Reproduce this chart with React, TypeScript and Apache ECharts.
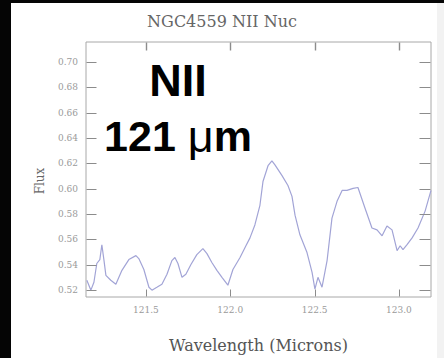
import React, { useEffect, useRef } from "react";
import * as echarts from "echarts";

// NII 121 micron spectrum of the NGC4559 nucleus
const wavelength = [
  121.150, 121.174, 121.192, 121.209, 121.227, 121.239, 121.251, 121.263, 121.292, 121.322,
  121.358, 121.399, 121.441, 121.458, 121.488, 121.518, 121.536, 121.565, 121.595, 121.625,
  121.654, 121.672, 121.690, 121.714, 121.737, 121.767, 121.802, 121.838, 121.862, 121.891,
  121.921, 121.951, 121.986, 122.016, 122.058, 122.093, 122.117, 122.146, 122.176, 122.194,
  122.224, 122.247, 122.265, 122.307, 122.342, 122.366, 122.384, 122.413, 122.455, 122.485,
  122.502, 122.520, 122.544, 122.574, 122.603, 122.633, 122.663, 122.692, 122.728, 122.757,
  122.799, 122.840, 122.870, 122.900, 122.929, 122.959, 122.989, 123.007, 123.024, 123.048,
  123.078, 123.113, 123.155, 123.190,
];

const flux = [
  0.5278, 0.5200, 0.5262, 0.5410, 0.5441, 0.5558, 0.5441, 0.5317, 0.5278, 0.5247,
  0.5356, 0.5441, 0.5472, 0.5449, 0.5363, 0.5223, 0.5200, 0.5223, 0.5247, 0.5325,
  0.5433, 0.5457, 0.5410, 0.5301, 0.5325, 0.5402, 0.5480, 0.5527, 0.5488, 0.5418,
  0.5356, 0.5301, 0.5239, 0.5363, 0.5457, 0.5550, 0.5612, 0.5714, 0.5869, 0.6056,
  0.6181, 0.6219, 0.6188, 0.6103, 0.6025, 0.5939, 0.5791, 0.5636, 0.5496, 0.5340,
  0.5208, 0.5301, 0.5223, 0.5433, 0.5768, 0.5900, 0.5986, 0.5986, 0.6002, 0.6009,
  0.5846, 0.5690, 0.5675, 0.5628, 0.5706, 0.5675, 0.5511, 0.5550, 0.5519, 0.5558,
  0.5612, 0.5690, 0.5823, 0.5986,
];

const xTicks = [121.5, 122.0, 122.5, 123.0];
const yTicks = [0.52, 0.54, 0.56, 0.58, 0.6, 0.62, 0.64, 0.66, 0.68, 0.7];

const X_MIN = 121.145;
const X_MAX = 123.19;
const Y_MIN = 0.5146;
const Y_MAX = 0.7156;

const SERIF = "'DejaVu Serif', 'Liberation Serif', serif";
const SANS = "'Liberation Sans', Arial, sans-serif";
const FRAME = "#a8a8a8";
const TICK = "#8c8c8c";

// snap a coordinate to the pixel grid so 1px strokes stay crisp
const snap = (v: number) => Math.round(v) + 0.5;

export default function App() {
  const ref = useRef<HTMLDivElement>(null);

  useEffect(() => {
    if (!ref.current) return;
    const chart = echarts.init(ref.current, null, { renderer: "svg" });

    const points = wavelength.map((w, i) => [w, flux[i]]);

    // one inward tick pair (bottom + top) per wavelength tick
    const renderXTick = (_p: any, api: any) => {
      const x = snap(api.coord([api.value(0), Y_MIN])[0]);
      const yb = snap(api.coord([X_MIN, Y_MIN])[1]) - 1;
      const yt = snap(api.coord([X_MIN, Y_MAX])[1]);
      return {
        type: "group",
        children: [
          { type: "line", shape: { x1: x, y1: yb, x2: x, y2: yb - 7 }, style: { stroke: TICK, lineWidth: 1 } },
          { type: "line", shape: { x1: x, y1: yt, x2: x, y2: yt + 8 }, style: { stroke: TICK, lineWidth: 1.4 } },
        ],
      };
    };

    // one inward tick pair (left + right) per flux tick
    const renderYTick = (_p: any, api: any) => {
      const y = snap(api.coord([X_MIN, api.value(1)])[1]);
      const xl = snap(api.coord([X_MIN, Y_MIN])[0]);
      const xr = snap(api.coord([X_MAX, Y_MIN])[0]) - 1;
      return {
        type: "group",
        children: [
          { type: "line", shape: { x1: xl, y1: y, x2: xl + 10, y2: y }, style: { stroke: TICK, lineWidth: 1 } },
          { type: "line", shape: { x1: xr, y1: y, x2: xr - 11, y2: y }, style: { stroke: TICK, lineWidth: 1 } },
        ],
      };
    };

    chart.setOption({
      animation: false,
      backgroundColor: "#ffffff",
      title: {
        text: "NGC4559 NII Nuc",
        left: "center",
        top: 8,
        textStyle: { fontFamily: SERIF, fontSize: 16, fontWeight: "normal", color: "#666" },
      },
      grid: {
        left: 86,
        top: 42,
        right: 13,
        bottom: 58,
        show: true,
        borderColor: FRAME,
        borderWidth: 1,
        backgroundColor: "transparent",
      },
      xAxis: {
        type: "value",
        min: X_MIN,
        max: X_MAX,
        axisLine: { show: false },
        axisTick: { show: false },
        splitLine: { show: false },
        axisLabel: {
          show: true,
          customValues: xTicks,
          formatter: (v: number) => v.toFixed(1),
          fontFamily: SERIF,
          fontSize: 9,
          color: "#9a9a9a",
          margin: 8,
        },
        name: "Wavelength (Microns)",
        nameLocation: "middle",
        nameGap: 40,
        nameTextStyle: { fontFamily: SERIF, fontSize: 16, color: "#555" },
      },
      yAxis: {
        type: "value",
        min: Y_MIN,
        max: Y_MAX,
        axisLine: { show: false },
        axisTick: { show: false },
        splitLine: { show: false },
        axisLabel: {
          show: true,
          customValues: yTicks,
          formatter: (v: number) => v.toFixed(2),
          fontFamily: SERIF,
          fontSize: 9,
          color: "#9a9a9a",
          margin: 8,
        },
      },
      series: [
        {
          type: "custom",
          renderItem: renderXTick,
          data: xTicks.map((v) => [v, Y_MIN]),
          clip: false,
          silent: true,
          z: 3,
        },
        {
          type: "custom",
          renderItem: renderYTick,
          data: yTicks.map((v) => [X_MIN, v]),
          clip: false,
          silent: true,
          z: 3,
        },
        {
          type: "line",
          data: points,
          symbol: "none",
          smooth: false,
          lineStyle: { color: "#a2a4d6", width: 1.2 },
          z: 2,
        },
      ],
      graphic: [
        { type: "rect", shape: { x: 0, y: 0, width: 11, height: 358 }, style: { fill: "#050505" } },
        { type: "rect", shape: { x: 0, y: 0, width: 444, height: 3 }, style: { fill: "#050505" } },
        { type: "rect", shape: { x: 437, y: 3, width: 7, height: 355 }, style: { fill: "#f2f2f2" } },
        {
          type: "text",
          x: 40,
          y: 181,
          rotation: Math.PI / 2,
          style: {
            text: "Flux",
            fontFamily: SERIF,
            fontSize: 12,
            fill: "#666",
            align: "center",
            verticalAlign: "middle",
          },
        },
        {
          type: "text",
          x: 178,
          y: 80,
          style: {
            text: "NII",
            fontFamily: SANS,
            fontWeight: "bold",
            fontSize: 45,
            fill: "#000",
            align: "center",
            verticalAlign: "middle",
          },
        },
        {
          type: "text",
          x: 178,
          y: 136,
          style: {
            text: "{b|121 }{u|μ}{b|m}",
            align: "center",
            verticalAlign: "middle",
            rich: {
              b: { fontFamily: SANS, fontWeight: "bold", fontSize: 43, fill: "#000" },
              u: { fontFamily: SANS, fontWeight: "normal", fontSize: 45, fill: "#000" },
            },
          },
        },
      ],
    });

    return () => chart.dispose();
  }, []);

  return (
    <div
      ref={ref}
      style={{ position: "fixed", left: 0, top: 0, width: 444, height: 358 }}
    />
  );
}
